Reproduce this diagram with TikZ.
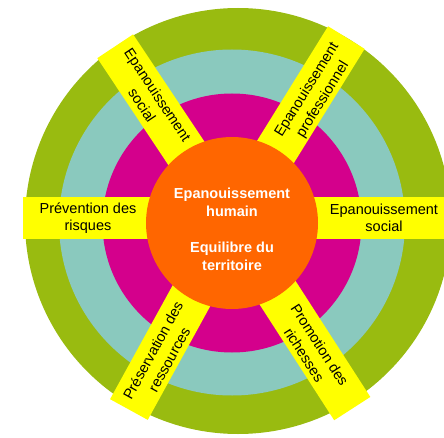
\documentclass[tikz,border=0pt]{standalone}
\usepackage{fontspec}
\setmainfont{Liberation Sans}
\definecolor{ringgreen}{RGB}{153,187,16}
\definecolor{ringteal}{RGB}{138,201,190}
\definecolor{ringmagenta}{RGB}{212,0,140}
\definecolor{coreorange}{RGB}{255,102,0}
\definecolor{baryellow}{RGB}{255,255,0}
\begin{document}
\begin{tikzpicture}[x=1pt,y=1pt,
  bartext/.style={font=\fontsize{14.5}{17}\selectfont, align=center, inner sep=0pt, text=black},
  diagtext/.style={bartext, font=\fontsize{14.5}{18.5}\selectfont},
  coretext/.style={font=\bfseries\fontsize{14.5}{18}\selectfont, align=center, inner sep=0pt, text=white},
  barfill/.style={fill=baryellow}]
\useasboundingbox (0,0) rectangle (444,437);
\coordinate (C) at (232,215);

% concentric rings
\fill[ringgreen] (238,216) circle (213);
\fill[ringteal] (232,214.5) circle (173);
\fill[ringmagenta] (232,214) circle (129.5);

% horizontal bar
\fill[barfill] (23,198) rectangle (450,240);
% diagonal bars
\foreach \ang/\len in {123.6/211, 58.2/217, 241.2/214, 302.8/222} {
  \begin{scope}[shift={(C)}, rotate=\ang]
    \fill[barfill] (0,-21.5) rectangle (\len,21.5);
  \end{scope}
}

% core
\node[circle, fill=coreorange, minimum size=172pt, inner sep=0pt] (core) at (232,214) {};
\node[coretext] (coretxt) at (232,207.5) {Epanouissement\\humain\\[18pt]Equilibre du\\territoire};

% bar labels
\node[diagtext, rotate=-56.4] (ul) at (150,337) {Epanouissement\\social};
\node[diagtext, rotate=58.2] (ur) at (315,342) {Epanouissement\\professionnel};
\node[diagtext, rotate=61.2] (ll) at (161,82) {Préservation des\\ressources};
\node[diagtext, rotate=-57.2] (lr) at (312,87) {Promotion des\\richesses};
\node[bartext] (lt) at (88,219) {Prévention des\\risques};
\node[bartext] (rt) at (384,219) {Epanouissement\\social};
\end{tikzpicture}
\end{document}
